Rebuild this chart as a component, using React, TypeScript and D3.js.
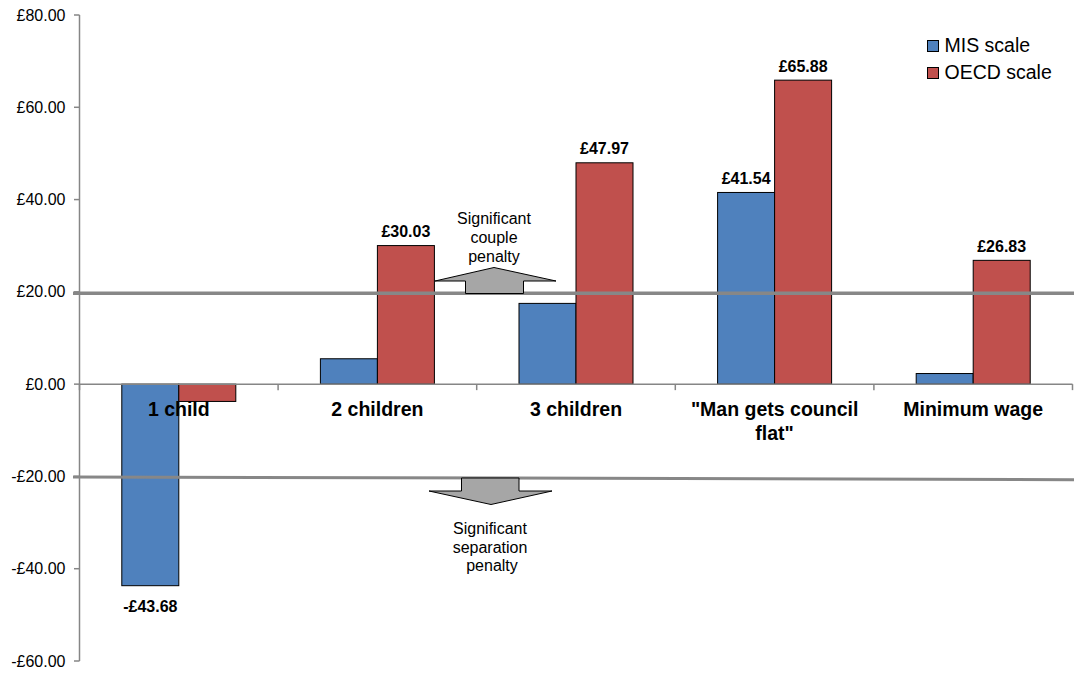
import React from "react";
import * as d3 from "d3";

// Weekly change in income (£) by scenario, on two equivalence scales
const categories: string[][] = [
  ["1 child"],
  ["2 children"],
  ["3 children"],
  ['"Man gets council', 'flat"'],
  ["Minimum wage"],
];
const misValues: number[] = [-43.68, 5.5, 17.5, 41.54, 2.3];
const oecdValues: number[] = [-3.75, 30.03, 47.97, 65.88, 26.83];
const misLabelled: boolean[] = [true, false, false, true, false];
const oecdLabelled: boolean[] = [false, true, true, true, true];
const seriesNames: string[] = ["MIS scale", "OECD scale"];
const seriesColors: string[] = ["#4F81BD", "#C0504D"];
const yTicks: number[] = [80, 60, 40, 20, 0, -20, -40, -60];
const thresholdUpper = 19.7;
const thresholdLower: [number, number] = [-20.1, -20.7];

const W = 1075;
const H = 673;
const FONT = "'Liberation Sans', Arial, sans-serif";

export default function App() {
  const x0 = d3.scaleBand<number>().domain(d3.range(categories.length)).range([79.5, 1072.5]).padding(0);
  const x1 = d3
    .scaleBand<number>()
    .domain([0, 1])
    .range([0, x0.bandwidth()])
    .paddingInner(0)
    .paddingOuter(0.742);
  const y = d3.scaleLinear().domain([-60, 80]).range([661, 15]);
  const fmt = (v: number) => (v < 0 ? "-£" : "£") + d3.format(".2f")(Math.abs(v));

  const series = [
    { values: misValues, labelled: misLabelled },
    { values: oecdValues, labelled: oecdLabelled },
  ];

  const bars: React.ReactNode[] = [];
  const labels: React.ReactNode[] = [];
  series.forEach((s, si) => {
    s.values.forEach((v, ci) => {
      const bx = (x0(ci) ?? 0) + (x1(si) ?? 0);
      const top = Math.min(y(v), y(0));
      const h = Math.abs(y(v) - y(0));
      bars.push(
        <rect
          key={`b${si}-${ci}`}
          x={bx}
          y={top}
          width={x1.bandwidth()}
          height={h}
          fill={seriesColors[si]}
          stroke="#000"
          strokeWidth={1}
        />
      );
      if (s.labelled[ci]) {
        const cx = bx + x1.bandwidth() / 2;
        const ly = v >= 0 ? y(v) - 8.5 : y(v) + 26;
        labels.push(
          <text
            key={`l${si}-${ci}`}
            x={cx}
            y={ly}
            textAnchor="middle"
            fontSize={16}
            fontWeight="bold"
            fill="#000"
          >
            {fmt(v)}
          </text>
        );
      }
    });
  });

  const xRange = x0.range();
  const axisColor = "#868686";
  const lineColor = "#878787";

  // block arrows for the annotation bands
  const upArrow = d3.line()([
    [494, 267.5],
    [556, 281],
    [523.5, 281],
    [523.5, 293.5],
    [465.5, 293.5],
    [465.5, 281],
    [435, 281],
  ]) + "Z";
  const downArrow = d3.line()([
    [461.5, 478],
    [519, 478],
    [519, 491],
    [552, 491],
    [491, 504.5],
    [429, 491],
    [461.5, 491],
  ]) + "Z";

  return (
    <svg
      width={W}
      height={H}
      style={{ position: "absolute", left: 0, top: 0, background: "#fff" }}
      fontFamily={FONT}
    >
      <rect x={0} y={0} width={W} height={H} fill="#fff" />

      {/* y axis */}
      <line x1={79.5} x2={79.5} y1={y(80)} y2={y(-60)} stroke={axisColor} strokeWidth={1.5} />
      {yTicks.map((t) => (
        <g key={t}>
          <line x1={74} x2={79.5} y1={y(t)} y2={y(t)} stroke={axisColor} strokeWidth={1.5} />
          <text x={65.5} y={y(t) + 5.5} textAnchor="end" fontSize={16} fill="#000">
            {fmt(t)}
          </text>
        </g>
      ))}

      {bars}

      {/* x axis at zero */}
      <line x1={xRange[0]} x2={xRange[1]} y1={y(0)} y2={y(0)} stroke={axisColor} strokeWidth={1.5} />
      {d3.range(categories.length + 1).map((i) => {
        const tx = i < categories.length ? x0(i) ?? 0 : xRange[1];
        return <line key={i} x1={tx} x2={tx} y1={y(0)} y2={y(0) + 6} stroke={axisColor} strokeWidth={1.5} />;
      })}

      {/* category labels */}
      {categories.map((lines, i) => (
        <text
          key={i}
          x={(x0(i) ?? 0) + x0.bandwidth() / 2}
          y={416}
          textAnchor="middle"
          fontSize={19.5}
          fontWeight="bold"
          fill="#000"
        >
          {lines.map((ln, j) => (
            <tspan key={j} x={(x0(i) ?? 0) + x0.bandwidth() / 2} dy={j === 0 ? 0 : 23.5}>
              {ln}
            </tspan>
          ))}
        </text>
      ))}

      {/* significance thresholds */}
      <line x1={73} x2={1074} y1={y(thresholdUpper)} y2={y(thresholdUpper)} stroke={lineColor} strokeWidth={3.5} />
      <line
        x1={73}
        x2={1074}
        y1={y(thresholdLower[0])}
        y2={y(thresholdLower[1])}
        stroke={lineColor}
        strokeWidth={3}
      />

      <path d={upArrow} fill="#A6A6A6" stroke="#000" strokeWidth={1} />
      <path d={downArrow} fill="#A6A6A6" stroke="#000" strokeWidth={1} />

      <text x={494} y={224} textAnchor="middle" fontSize={16} fill="#000">
        <tspan x={494} dy={0}>Significant</tspan>
        <tspan x={494} dy={19}>couple</tspan>
        <tspan x={494} dy={19}>penalty</tspan>
      </text>
      <text x={490} y={534} textAnchor="middle" fontSize={16} fill="#000">
        <tspan x={490} dy={0}>Significant</tspan>
        <tspan x={490} dy={18.5}>separation</tspan>
        <tspan x={492} dy={18.5}>penalty</tspan>
      </text>

      {labels}

      {/* legend */}
      {seriesNames.map((name, i) => (
        <g key={name} transform={`translate(927.5, ${40.5 + i * 27})`}>
          <rect x={0} y={0} width={11} height={11} fill={seriesColors[i]} stroke="#000" strokeWidth={1} />
          <text x={17} y={11} fontSize={19.5} fill="#000">
            {name}
          </text>
        </g>
      ))}
    </svg>
  );
}
